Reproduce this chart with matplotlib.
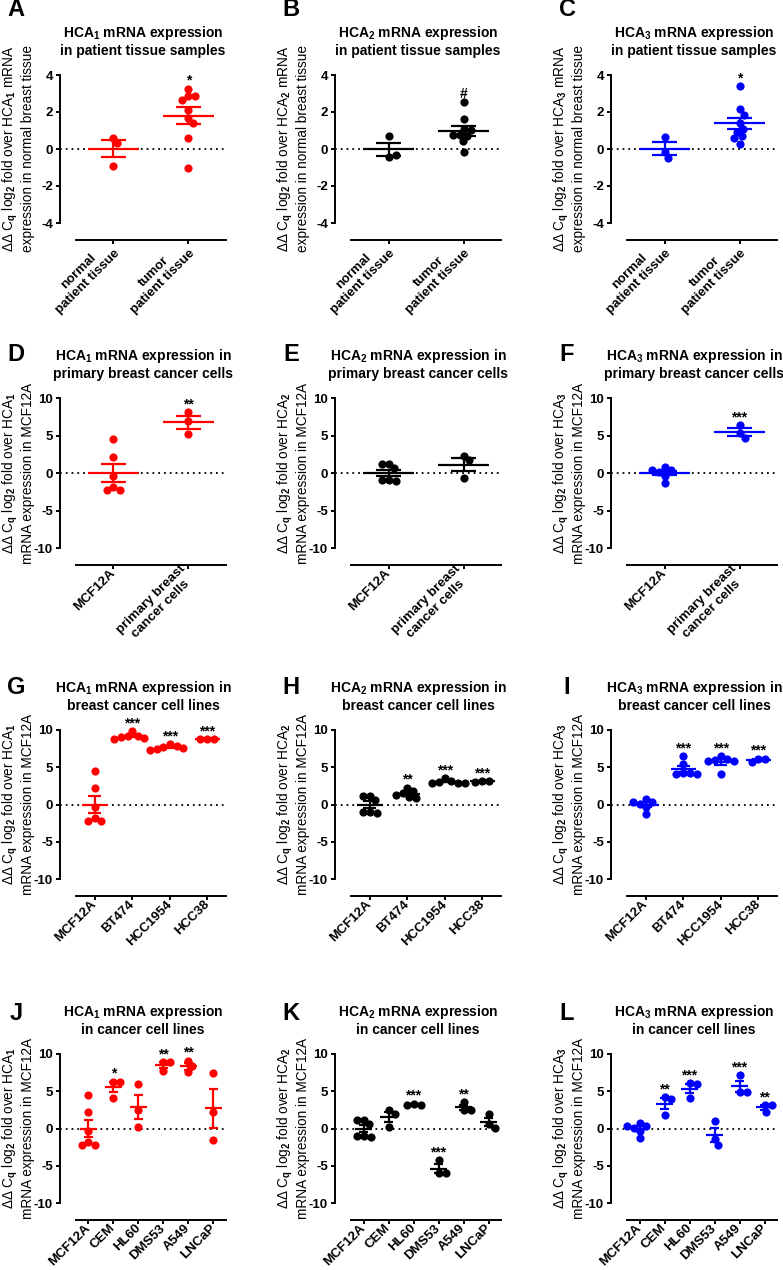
import numpy as np
import matplotlib
matplotlib.use("Agg")
import matplotlib.pyplot as plt

# Configuration
OUTPUT_IMAGE = "out.png"
FIG_W, FIG_H = 783, 1270  # pixels at dpi 100

plt.rcParams['font.family'] = ['Liberation Sans', 'DejaVu Sans']
plt.rcParams['font.weight'] = 'bold'
plt.rcParams['mathtext.fontset'] = 'custom'
plt.rcParams['mathtext.rm'] = 'Liberation Sans:bold'
plt.rcParams['mathtext.it'] = 'Liberation Sans:bold'
plt.rcParams['mathtext.bf'] = 'Liberation Sans:bold'
plt.rcParams['mathtext.default'] = 'rm'

RED = '#ff0000'
BLACK = '#000000'
BLUE = '#0000ff'

# Categories
TISSUE_GROUPS = ["normal\npatient tissue", "tumor\npatient tissue"]
PRIMARY_GROUPS = ["MCF12A", "primary breast\ncancer cells"]
BREAST_LINES = ["MCF12A", "BT474", "HCC1954", "HCC38"]
CANCER_LINES = ["MCF12A", "CEM", "HL60", "DMS53", "A549", "LNCaP"]

TICKS_TISSUE = [-4, -2, 0, 2, 4]
TICKS_CELLS = [-10, -5, 0, 5, 10]

# MCF12A reference values (same control in every cell-line panel)
MCF12A_HCA1 = [4.5, 2.2, -0.35, -1.85, -2.25, -2.25]
MCF12A_HCA2 = [1.2, 0.65, 1.15, -0.95, -1.1, -0.95]
MCF12A_HCA3 = [0.8, 0.4, -0.35, 0.1, 0.35, -1.3]

# A-C: patient tissue
A_NORMAL = [0.61, 0.31, -0.9]
A_TUMOR = [3.26, 2.84, 2.84, 2.64, 2.1, 1.65, 1.38, 0.59, -1.04]
B_NORMAL = [0.70, -0.41, -0.34]
B_TUMOR = [2.55, 1.64, 1.1, 1.05, 0.78, 0.75, 0.72, 0.42, -0.18]
C_NORMAL = [0.67, -0.14, -0.47]
C_TUMOR = [3.42, 2.14, 1.83, 1.42, 1.1, 0.94, 0.70, 0.61, 0.25]

# D-F: primary breast cancer cells
D_PRIMARY = [8.13, 6.88, 5.22]
E_PRIMARY = [2.28, 1.74, -0.63]
F_PRIMARY = [6.38, 5.31, 4.73]

# G-I: breast cancer cell lines (BT474, HCC1954, HCC38)
G_BT474 = [9.85, 9.25, 9.15, 9.05, 8.95, 8.85]
G_HCC1954 = [8.1, 7.9, 7.7, 7.55, 7.4, 7.35]
G_HCC38 = [8.8, 8.75, 8.75]
H_BT474 = [2.28, 1.8, 1.5, 1.3, 1.05, 0.9]
H_HCC1954 = [3.5, 3.2, 3.05, 2.95, 2.9, 2.85]
H_HCC38 = [3.15, 3.1, 3.05]
I_BT474 = [6.53, 5.41, 4.25, 4.2, 4.15, 4.1]
I_HCC1954 = [6.5, 6.1, 5.95, 5.9, 5.8, 4.05]
I_HCC38 = [6.17, 6.17, 5.73]

# J-L: cancer cell lines (CEM, HL60, DMS53, A549, LNCaP)
J_CEM = [6.28, 6.28, 4.13]
J_HL60 = [5.92, 2.47, 0.22]
J_DMS53 = [8.88, 8.88, 7.71]
J_A549 = [9.1, 8.34, 7.53]
J_LNCAP = [7.4, 2.24, -1.57]
K_CEM = [2.47, 2.0, 0.22]
K_HL60 = [3.35, 3.2, 3.15]
K_DMS53 = [-4.26, -5.96, -5.96]
K_A549 = [3.59, 2.47, 2.47]
K_LNCAP = [2.0, 0.6, 0.1]
L_CEM = [4.26, 3.95, 1.8]
L_HL60 = [6.14, 5.92, 4.04]
L_DMS53 = [0.99, -1.35, -2.15]
L_A549 = [7.17, 4.93, 4.93]
L_LNCAP = [3.14, 3.14, 2.24]

# Significance marks
SIG_A = ["", "*"]
SIG_B = ["", "#"]
SIG_C = ["", "*"]
SIG_D = ["", "**"]
SIG_E = ["", ""]
SIG_F = ["", "***"]
SIG_G = ["", "***", "***", "***"]
SIG_H = ["", "**", "***", "***"]
SIG_I = ["", "***", "***", "***"]
SIG_J = ["", "*", "", "**", "**", ""]
SIG_K = ["", "", "***", "***", "**", ""]
SIG_L = ["", "**", "***", "", "***", "**"]

# Layout (pixels)
COL_X = [60, 335, 611]
ROW_Y = [(75, 223), (398, 548), (730, 879), (1054, 1203)]
LETTER_Y = [10, 355, 688, 1013]
AX_W = 166
XLINE_GAP = 16
XLINE_W = 150
SPINE_DROP = 16.5


def hca(i):
    return "HCA$_{%d}$" % i


def swarm(vals, ypx, diam=6.8, step=0.5):
    # simple beeswarm in pixel space (dots may touch slightly, like Prism)
    placed = []
    out = []
    for v in vals:
        y = v * ypx
        k = 0
        while True:
            c = ((k + 1) // 2) * step * (1 if k % 2 == 1 else -1)
            if all((c - px) ** 2 + (y - py) ** 2 >= diam ** 2 for px, py in placed):
                break
            k += 1
        placed.append((c, y))
        out.append(c)
    return np.array(out)


def draw_panel(fig, col, row, letter, groups, values, sig, color, yticks, title, ylabel):
    top, bottom = ROW_Y[row]
    left = COL_X[col]
    h = bottom - top
    ax = fig.add_axes([left / FIG_W, 1 - bottom / FIG_H, AX_W / FIG_W, h / FIG_H])

    n = len(groups)
    spacing = XLINE_W / n
    ymin, ymax = yticks[0], yticks[-1]
    ax.set_xlim(-0.5 - XLINE_GAP / spacing, n - 0.5)
    ax.set_ylim(ymin, ymax)
    ypx = h / (ymax - ymin)

    ax.axhline(0, color='black', lw=1.3, ls=(0, (1, 2.2)), zorder=1)

    for i, vals in enumerate(values):
        vals = np.asarray(vals, dtype=float)
        offs = swarm(vals, ypx) / spacing
        ax.plot(i + offs, vals, 'o', color=color, ms=5.9, mec='none',
                clip_on=False, zorder=3)
        m = vals.mean()
        sem = vals.std(ddof=1) / np.sqrt(len(vals))
        ax.hlines(m, i - 0.34, i + 0.34, color=color, lw=1.6, zorder=4)
        ax.vlines(i, m - sem, m + sem, color=color, lw=1.6, zorder=4)
        ax.hlines([m - sem, m + sem], i - 0.17, i + 0.17, color=color, lw=1.6, zorder=4)
        if sig[i]:
            ax.annotate(sig[i], (i, vals.max()), xytext=(0, 2.7),
                        textcoords='offset points', ha='center', va='baseline',
                        fontsize=10, color='black', annotation_clip=False)

    for s in ['top', 'right']:
        ax.spines[s].set_visible(False)
    ax.spines['left'].set_linewidth(1.4)
    ax.spines['bottom'].set_linewidth(1.4)
    ax.spines['bottom'].set_position(('outward', SPINE_DROP * 72 / 100))
    ax.spines['bottom'].set_bounds(-0.5, n - 0.5)

    ax.set_yticks(yticks)
    ax.set_yticklabels([str(t) for t in yticks], fontsize=9.5)
    ax.set_xticks(range(n))
    ax.set_xticklabels(groups, rotation=45, ha='right', va='center',
                       rotation_mode='anchor', multialignment='center', fontsize=9.5)
    ax.tick_params(axis='both', direction='out', length=3, width=1.4, pad=2)

    ax.text(0.5, 1 + 34 / h, title, transform=ax.transAxes, ha='center', va='center',
            fontsize=10, fontweight='bold')
    ax.set_ylabel(ylabel, fontsize=9.8, linespacing=1.05)
    ax.yaxis.set_label_coords(-25 / AX_W, 0.5)

    fig.text((left - 44) / FIG_W, 1 - LETTER_Y[row] / FIG_H, letter, fontsize=17,
             fontweight='bold', ha='center', va='center')
    return ax


def main():
    fig = plt.figure(figsize=(FIG_W / 100, FIG_H / 100), dpi=100)
    colors = [RED, BLACK, BLUE]
    mcf = [MCF12A_HCA1, MCF12A_HCA2, MCF12A_HCA3]

    # Row 1: patient tissue
    tissue = [[A_NORMAL, A_TUMOR], [B_NORMAL, B_TUMOR], [C_NORMAL, C_TUMOR]]
    sig1 = [SIG_A, SIG_B, SIG_C]
    for c in range(3):
        draw_panel(fig, c, 0, "ABC"[c], TISSUE_GROUPS, tissue[c], sig1[c], colors[c],
                   TICKS_TISSUE,
                   hca(c + 1) + " mRNA expression\nin patient tissue samples",
                   "ΔΔ C$_q$ log$_2$ fold over " + hca(c + 1) + " mRNA\n"
                   "expression in normal breast tissue")

    # Row 2: primary breast cancer cells
    primary = [D_PRIMARY, E_PRIMARY, F_PRIMARY]
    sig2 = [SIG_D, SIG_E, SIG_F]
    for c in range(3):
        draw_panel(fig, c, 1, "DEF"[c], PRIMARY_GROUPS, [mcf[c], primary[c]], sig2[c],
                   colors[c], TICKS_CELLS,
                   hca(c + 1) + " mRNA expression in\nprimary breast cancer cells",
                   "ΔΔ C$_q$ log$_2$ fold over " + hca(c + 1) + "\n"
                   "mRNA expression in MCF12A")

    # Row 3: breast cancer cell lines
    breast = [[G_BT474, G_HCC1954, G_HCC38],
              [H_BT474, H_HCC1954, H_HCC38],
              [I_BT474, I_HCC1954, I_HCC38]]
    sig3 = [SIG_G, SIG_H, SIG_I]
    for c in range(3):
        draw_panel(fig, c, 2, "GHI"[c], BREAST_LINES, [mcf[c]] + breast[c], sig3[c],
                   colors[c], TICKS_CELLS,
                   hca(c + 1) + " mRNA expression in\nbreast cancer cell lines",
                   "ΔΔ C$_q$ log$_2$ fold over " + hca(c + 1) + "\n"
                   "mRNA expression in MCF12A")

    # Row 4: other cancer cell lines
    cancer = [[J_CEM, J_HL60, J_DMS53, J_A549, J_LNCAP],
              [K_CEM, K_HL60, K_DMS53, K_A549, K_LNCAP],
              [L_CEM, L_HL60, L_DMS53, L_A549, L_LNCAP]]
    sig4 = [SIG_J, SIG_K, SIG_L]
    for c in range(3):
        draw_panel(fig, c, 3, "JKL"[c], CANCER_LINES, [mcf[c]] + cancer[c], sig4[c],
                   colors[c], TICKS_CELLS,
                   hca(c + 1) + " mRNA expression\nin cancer cell lines",
                   "ΔΔ C$_q$ log$_2$ fold over " + hca(c + 1) + "\n"
                   "mRNA expression in MCF12A")

    fig.savefig(OUTPUT_IMAGE, dpi=100, facecolor='white')


if __name__ == "__main__":
    main()
